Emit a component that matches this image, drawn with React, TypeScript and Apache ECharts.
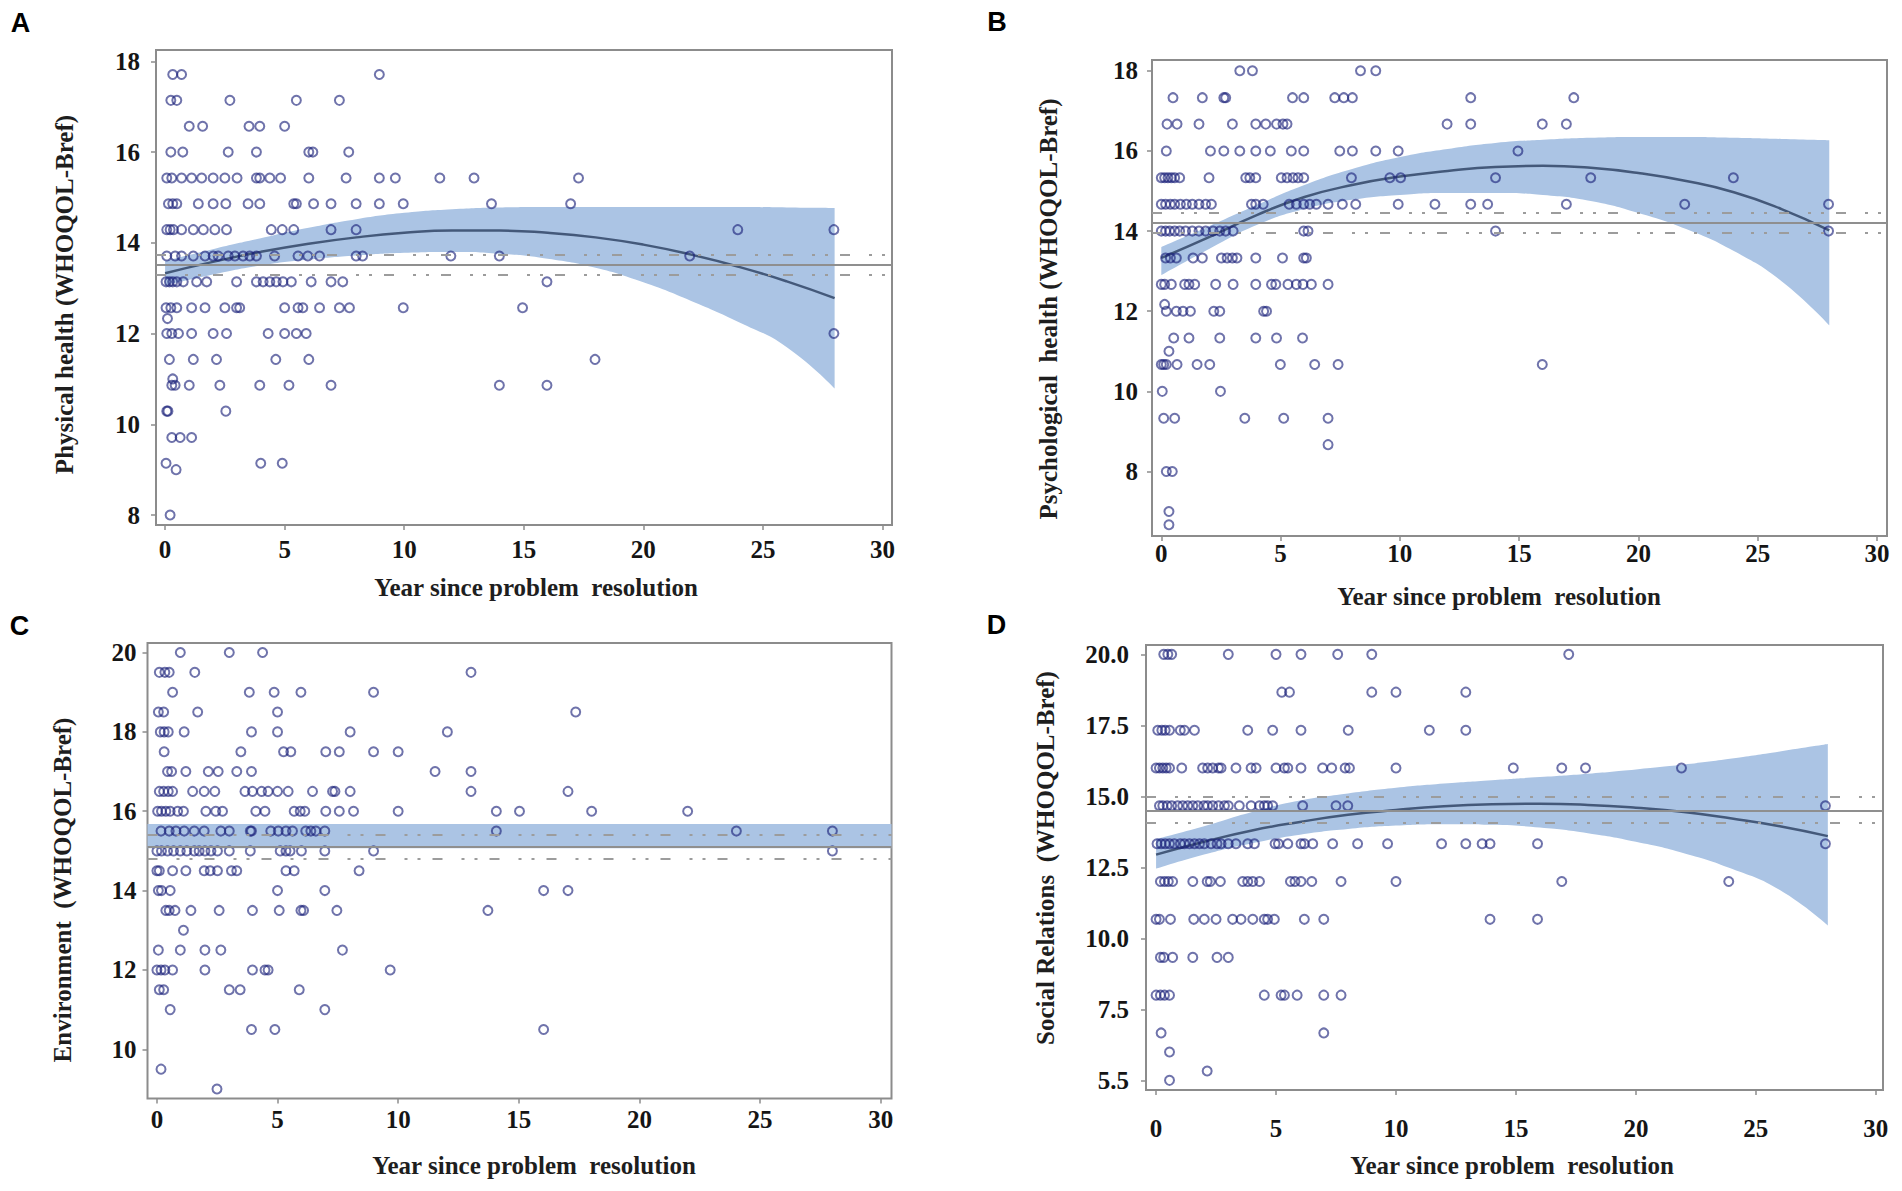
import React, { useEffect, useRef } from "react";
import * as echarts from "echarts";

// ---------- data ----------
const xTicks = [0, 5, 10, 15, 20, 25, 30];
const yTicksA = [8, 10, 12, 14, 16, 18];
const yTicksB = [8, 10, 12, 14, 16, 18];
const yTicksC = [10, 12, 14, 16, 18, 20];
const yTicksD = [5, 7.5, 10, 12.5, 15, 17.5, 20];
const yTickLabelsD = ["5.5", "7.5", "10.0", "12.5", "15.0", "17.5", "20.0"];

const fitYears = [0, 2, 4, 6, 8, 10, 12, 14, 16, 18, 20, 22, 24, 26, 28];

// Panel A: Physical health
const physicalFit = [13.33, 13.58, 13.8, 13.98, 14.12, 14.22, 14.27, 14.27, 14.22, 14.12, 13.96, 13.74, 13.47, 13.15, 12.78];
const physicalUpper = [13.6, 13.86, 14.1, 14.33, 14.52, 14.66, 14.74, 14.78, 14.79, 14.79, 14.79, 14.79, 14.79, 14.78, 14.77];
const physicalLower = [13.06, 13.3, 13.5, 13.63, 13.72, 13.78, 13.8, 13.76, 13.65, 13.45, 13.13, 12.72, 12.25, 11.7, 10.79];
const physicalMean = [13.52, 13.73, 13.3];
const physicalRows: [number, number[]][] = [
  [17.71, [0.32, 0.69, 8.96]],
  [17.14, [0.24, 0.49, 2.71, 5.49, 7.29]],
  [16.57, [1.01, 1.57, 3.51, 3.96, 5.0]],
  [16.0, [0.24, 0.74, 2.64, 3.82, 6.01, 6.18, 7.68]],
  [15.43, [0.07, 0.28, 0.69, 1.11, 1.53, 2.01, 2.5, 3.01, 3.82, 3.96, 4.38, 4.83, 6.01, 7.57, 8.96, 9.63, 11.49, 12.92, 17.29]],
  [14.86, [0.14, 0.32, 0.49, 1.39, 2.01, 2.54, 3.47, 3.96, 5.38, 5.49, 6.21, 6.94, 7.99, 8.96, 9.96, 13.65, 16.96]],
  [14.29, [0.07, 0.21, 0.35, 0.69, 1.18, 1.6, 2.08, 2.57, 4.44, 4.9, 5.38, 6.94, 7.99, 23.95, 27.97]],
  [13.71, [0.07, 0.42, 0.69, 1.18, 1.67, 2.01, 2.22, 2.64, 2.92, 3.26, 3.54, 3.82, 4.58, 5.56, 5.97, 6.46, 7.99, 8.26, 11.95, 13.98, 21.94]],
  [13.14, [0.04, 0.18, 0.32, 0.49, 0.76, 1.32, 1.74, 2.99, 3.82, 4.1, 4.38, 4.65, 4.93, 5.28, 6.11, 6.94, 7.43, 15.97]],
  [12.57, [0.04, 0.24, 0.49, 1.11, 1.67, 2.5, 2.99, 3.12, 5.0, 5.56, 5.76, 6.46, 7.29, 7.71, 9.96, 14.95]],
  [12.33, [0.1]],
  [12.0, [0.07, 0.28, 0.56, 1.11, 2.01, 2.57, 4.31, 5.0, 5.49, 5.9, 27.97]],
  [11.43, [0.18, 1.18, 2.15, 4.63, 6.01, 17.98]],
  [11.0, [0.32]],
  [10.86, [0.28, 0.42, 1.01, 2.29, 3.96, 5.18, 6.94, 13.98, 15.97]],
  [10.29, [0.07, 0.12, 2.54]],
  [9.71, [0.28, 0.63, 1.11]],
  [9.14, [0.04, 4.0, 4.9]],
  [9.0, [0.46]],
  [8.0, [0.21]],
];

// Panel B: Psychological health
const psychFit = [13.33, 13.85, 14.4, 14.85, 15.15, 15.36, 15.5, 15.6, 15.63, 15.58, 15.45, 15.25, 14.97, 14.55, 14.02];
const psychUpper = [13.6, 14.12, 14.65, 15.15, 15.55, 15.85, 16.05, 16.2, 16.28, 16.33, 16.35, 16.35, 16.33, 16.3, 16.27];
const psychLower = [12.9, 13.55, 14.15, 14.55, 14.78, 14.9, 14.95, 14.95, 14.9, 14.75, 14.45, 14.05, 13.5, 12.75, 11.65];
const psychMean = [14.2, 14.45, 13.96];
const psychRows: [number, number[]][] = [
  [18.0, [3.29, 3.82, 8.35, 8.99]],
  [17.33, [0.49, 1.72, 2.62, 2.7, 5.5, 5.97, 7.27, 7.65, 8.01, 12.97, 17.29]],
  [16.67, [0.24, 0.66, 1.58, 2.98, 3.96, 4.38, 4.83, 5.1, 5.27, 11.98, 12.97, 15.97, 16.98]],
  [16.0, [0.21, 2.06, 2.62, 3.29, 3.96, 4.57, 5.45, 5.97, 7.48, 8.01, 8.99, 9.93, 14.95]],
  [15.33, [0.0, 0.14, 0.28, 0.42, 0.56, 0.77, 2.0, 3.54, 3.71, 3.96, 5.03, 5.27, 5.52, 5.73, 5.97, 7.97, 9.58, 10.03, 14.01, 18.0, 23.98]],
  [14.67, [0.0, 0.18, 0.38, 0.56, 0.8, 1.05, 1.3, 1.58, 1.86, 2.1, 3.78, 3.96, 4.27, 5.36, 5.66, 5.97, 6.22, 6.5, 6.99, 7.59, 8.15, 9.93, 11.47, 12.97, 13.68, 16.98, 21.94, 27.97]],
  [14.0, [0.0, 0.18, 0.35, 0.56, 0.77, 1.02, 1.3, 1.58, 1.86, 2.17, 2.45, 2.7, 3.01, 5.97, 6.15, 14.01, 27.97]],
  [13.33, [0.18, 0.38, 0.63, 1.33, 1.72, 2.52, 2.76, 2.98, 3.17, 3.96, 5.08, 5.97, 6.08]],
  [12.67, [0.0, 0.14, 0.42, 0.98, 1.16, 1.4, 2.28, 3.01, 3.96, 4.62, 4.8, 5.31, 5.66, 5.94, 6.29, 6.99]],
  [12.17, [0.14]],
  [12.0, [0.21, 0.63, 0.91, 1.22, 2.2, 2.45, 4.29, 4.41]],
  [11.33, [0.52, 1.16, 2.45, 3.96, 4.83, 5.92]],
  [11.0, [0.32]],
  [10.67, [0.0, 0.1, 0.21, 0.66, 1.5, 2.03, 4.99, 6.43, 7.41, 15.97]],
  [10.0, [0.04, 2.48]],
  [9.33, [0.1, 0.56, 3.5, 5.13, 6.99]],
  [8.67, [6.99]],
  [8.0, [0.21, 0.46]],
  [7.0, [0.32]],
  [6.67, [0.32]],
];

// Panel C: Environment
const envBand = [15.07, 15.68];
const envMean = [15.1, 15.4, 14.8];
const envRows: [number, number[]][] = [
  [20.0, [0.97, 3.0, 4.38]],
  [19.5, [0.1, 0.33, 0.51, 1.57, 13.02]],
  [19.0, [0.65, 3.83, 4.86, 5.97, 8.98]],
  [18.5, [0.06, 0.28, 1.69, 5.0, 17.36]],
  [18.0, [0.14, 0.3, 0.47, 1.13, 3.92, 5.0, 8.01, 12.04]],
  [17.5, [0.3, 3.48, 5.25, 5.55, 7.0, 7.56, 8.98, 10.0]],
  [17.0, [0.44, 0.61, 1.2, 2.13, 2.54, 3.31, 3.92, 11.53, 13.02]],
  [16.5, [0.1, 0.28, 0.47, 0.65, 1.48, 1.96, 2.4, 3.65, 3.96, 4.34, 4.61, 5.0, 5.44, 6.45, 7.28, 7.38, 8.01, 13.02, 17.04]],
  [16.0, [0.03, 0.19, 0.37, 0.55, 0.86, 1.1, 2.03, 2.44, 2.72, 4.1, 4.48, 5.69, 5.94, 6.13, 7.0, 7.56, 8.15, 10.0, 14.07, 15.03, 18.02, 22.0]],
  [15.5, [0.17, 0.51, 0.79, 1.13, 1.55, 1.96, 2.65, 3.0, 3.87, 3.92, 4.72, 5.03, 5.35, 5.62, 6.17, 6.38, 6.59, 6.96, 14.07, 24.02, 28.0]],
  [15.0, [0.0, 0.19, 0.44, 0.69, 0.97, 1.24, 1.55, 1.75, 1.99, 2.24, 2.51, 3.0, 3.87, 5.11, 5.35, 5.52, 5.99, 6.96, 8.98, 28.0]],
  [14.5, [0.0, 0.1, 0.65, 1.2, 1.96, 2.21, 2.51, 3.09, 3.31, 5.35, 5.69, 8.38]],
  [14.0, [0.06, 0.19, 0.55, 5.0, 6.96, 16.03, 17.04]],
  [13.5, [0.37, 0.51, 0.75, 1.41, 2.58, 3.96, 5.07, 5.97, 6.08, 7.46, 13.72]],
  [13.0, [1.1]],
  [12.5, [0.06, 0.97, 1.99, 2.65, 7.69]],
  [12.0, [0.0, 0.17, 0.33, 0.65, 1.99, 3.96, 4.48, 4.61, 9.67]],
  [11.5, [0.1, 0.28, 3.0, 3.45, 5.9]],
  [11.0, [0.55, 6.96]],
  [10.5, [3.92, 4.89, 16.03]],
  [9.5, [0.17]],
  [9.0, [2.49]],
];

// Panel D: Social relations
const socialFit = [12.95, 13.4, 13.8, 14.1, 14.35, 14.52, 14.65, 14.72, 14.74, 14.7, 14.6, 14.45, 14.22, 13.95, 13.6];
const socialUpper = [13.5, 13.95, 14.45, 14.85, 15.1, 15.3, 15.45, 15.57, 15.68, 15.8, 15.95, 16.12, 16.33, 16.58, 16.84];
const socialLower = [12.45, 12.95, 13.35, 13.65, 13.85, 13.97, 14.02, 14.0, 13.9, 13.7, 13.4, 13.0, 12.45, 11.7, 10.45];
const socialMean = [14.5, 14.98, 14.06];
const socialRows: [number, number[]][] = [
  [20.0, [0.32, 0.49, 0.65, 3.01, 5.0, 6.04, 7.57, 8.99, 17.2]],
  [18.67, [5.24, 5.56, 8.99, 10.0, 12.91]],
  [17.33, [0.07, 0.24, 0.38, 0.56, 1.01, 1.18, 1.6, 3.82, 4.86, 6.04, 8.01, 11.39, 12.91]],
  [16.0, [0.0, 0.14, 0.28, 0.42, 0.56, 1.07, 1.94, 2.15, 2.36, 2.6, 2.71, 3.33, 3.96, 4.17, 5.0, 5.35, 5.49, 6.04, 6.94, 7.32, 7.88, 8.06, 10.0, 14.89, 16.91, 17.9, 21.9]],
  [14.67, [0.14, 0.28, 0.46, 0.65, 0.9, 1.11, 1.32, 1.53, 1.74, 1.99, 2.15, 2.36, 2.6, 2.85, 3.01, 3.47, 3.96, 4.31, 4.51, 4.65, 4.86, 6.11, 7.5, 7.99, 27.9]],
  [13.33, [0.04, 0.21, 0.38, 0.56, 0.76, 1.01, 1.18, 1.39, 1.6, 1.81, 2.01, 2.29, 2.54, 2.71, 3.01, 3.33, 3.82, 4.1, 4.96, 5.1, 5.49, 6.04, 6.18, 6.53, 7.36, 8.4, 9.65, 11.9, 12.91, 13.59, 13.92, 15.9, 27.9]],
  [12.0, [0.18, 0.35, 0.51, 0.69, 1.53, 2.13, 2.26, 2.68, 3.61, 3.82, 4.03, 4.31, 5.6, 5.79, 6.04, 6.49, 7.71, 10.0, 16.91, 23.87]],
  [10.67, [0.0, 0.14, 0.6, 1.57, 2.01, 2.5, 3.19, 3.54, 4.03, 4.51, 4.65, 4.93, 6.18, 6.99, 13.92, 15.9]],
  [9.33, [0.18, 0.32, 0.69, 1.53, 2.54, 3.01]],
  [8.0, [0.0, 0.18, 0.35, 0.56, 4.51, 5.21, 5.35, 5.88, 6.99, 7.71]],
  [6.67, [0.21, 6.99]],
  [6.0, [0.56]],
  [5.33, [2.13]],
  [5.0, [0.56]],
];

// ---------- styling / layout ----------
const SERIF = "'Liberation Serif', 'Times New Roman', serif";
const SANS = "'Liberation Sans', Arial, sans-serif";
const BOX = "#8c8c8c";
const BAND = "#abc4e4";
const CURVE = "#44597a";
const POINT = "rgba(24, 30, 120, 0.78)";
const DASHDOT = [10, 19, 3, 10, 3, 12];

// value first, year second: stacking then works on the value (y) dimension
const yxPairs = (xs: number[], ys: number[]) => xs.map((x, i) => [ys[i], x]);
const rowsToPoints = (rows: [number, number[]][]) => {
  const out: number[][] = [];
  rows.forEach(([level, years]) => years.forEach((yr) => out.push([yr, level])));
  return out;
};

type Panel = {
  grid: { left: number; top: number; width: number; height: number };
  xRange: [number, number];
  yRange: [number, number];
  yTicks: number[];
  yLabel?: (v: number) => string;
  xMargin: number;
  yMargin: number;
  rows: [number, number[]][];
  fit?: number[];
  upper?: number[];
  lower?: number[];
  flatBand?: number[];
  mean: number[];
};

const panels: Panel[] = [
  {
    grid: { left: 156, top: 50, width: 736, height: 475 },
    xRange: [-0.38, 30.4], yRange: [7.78, 18.25], yTicks: yTicksA,
    xMargin: 12, yMargin: 16, rows: physicalRows,
    fit: physicalFit, upper: physicalUpper, lower: physicalLower, mean: physicalMean,
  },
  {
    grid: { left: 1152, top: 60, width: 735, height: 476 },
    xRange: [-0.39, 30.42], yRange: [6.39, 18.27], yTicks: yTicksB,
    xMargin: 5, yMargin: 14, rows: psychRows,
    fit: psychFit, upper: psychUpper, lower: psychLower, mean: psychMean,
  },
  {
    grid: { left: 147.5, top: 643, width: 744, height: 455.5 },
    xRange: [-0.39, 30.45], yRange: [8.76, 20.24], yTicks: yTicksC,
    xMargin: 8, yMargin: 11, rows: envRows,
    flatBand: envBand, mean: envMean,
  },
  {
    grid: { left: 1146, top: 645, width: 737, height: 445 },
    xRange: [-0.42, 30.3], yRange: [4.66, 20.33], yTicks: yTicksD,
    yLabel: (v: number) => {
      const i = yTicksD.indexOf(v);
      return i >= 0 ? yTickLabelsD[i] : String(v);
    },
    xMargin: 26, yMargin: 17, rows: socialRows,
    fit: socialFit, upper: socialUpper, lower: socialLower, mean: socialMean,
  },
];

const letters = [
  { t: "A", x: 20.5, y: 23 },
  { t: "B", x: 997, y: 22 },
  { t: "C", x: 19.5, y: 625.5 },
  { t: "D", x: 996.5, y: 625 },
];
const yNames = [
  { t: "Physical health (WHOQOL-Bref)", x: 64, y: 294.5 },
  { t: "Psychological  health (WHOQOL-Bref)", x: 1048, y: 309 },
  { t: "Environment  (WHOQOL-Bref)", x: 62, y: 890 },
  { t: "Social Relations  (WHOQOL-Bref)", x: 1045, y: 858 },
];
const xNames = [
  { t: "Year since problem  resolution", x: 536, y: 587.5 },
  { t: "Year since problem  resolution", x: 1499, y: 596 },
  { t: "Year since problem  resolution", x: 534, y: 1165 },
  { t: "Year since problem  resolution", x: 1512, y: 1165 },
];

function buildOption() {
  const grid: any[] = [];
  const xAxis: any[] = [];
  const yAxis: any[] = [];
  const series: any[] = [];
  const tickLine = { show: true, length: 5, lineStyle: { color: BOX, width: 1.5 } };
  const labelBase = { fontFamily: SERIF, fontWeight: "bold", fontSize: 25, color: "#151515" };

  panels.forEach((p, i) => {
    grid.push({
      ...p.grid, show: true, borderColor: BOX, borderWidth: 2,
      backgroundColor: "transparent", containLabel: false, outerBoundsMode: "none",
    });
    xAxis.push({
      type: "value", gridIndex: i, min: p.xRange[0], max: p.xRange[1],
      axisLine: { show: false, onZero: false },
      axisTick: { ...tickLine, customValues: xTicks },
      axisLabel: { ...labelBase, margin: p.xMargin, customValues: xTicks },
      splitLine: { show: false },
    });
    yAxis.push({
      type: "value", gridIndex: i, min: p.yRange[0], max: p.yRange[1],
      axisLine: { show: false, onZero: false },
      axisTick: { ...tickLine, customValues: p.yTicks },
      axisLabel: {
        ...labelBase, margin: p.yMargin, customValues: p.yTicks,
        ...(p.yLabel ? { formatter: p.yLabel } : {}),
      },
      splitLine: { show: false },
    });

    if (p.fit && p.upper && p.lower) {
      const diff = p.upper.map((u, k) => u - p.lower![k]);
      series.push({
        type: "line", xAxisIndex: i, yAxisIndex: i, stack: "band" + i,
        data: yxPairs(fitYears, p.lower), encode: { x: 1, y: 0 },
        smooth: true, symbol: "none", silent: true,
        lineStyle: { opacity: 0 }, z: 1,
      });
      series.push({
        type: "line", xAxisIndex: i, yAxisIndex: i, stack: "band" + i,
        data: yxPairs(fitYears, diff), encode: { x: 1, y: 0 },
        smooth: true, symbol: "none", silent: true,
        lineStyle: { opacity: 0 }, areaStyle: { color: BAND, opacity: 1 }, z: 1,
      });
      series.push({
        type: "line", xAxisIndex: i, yAxisIndex: i,
        data: yxPairs(fitYears, p.fit), encode: { x: 1, y: 0 },
        smooth: true, symbol: "none", silent: true,
        lineStyle: { color: CURVE, width: 2.5 }, z: 3,
      });
    }

    const scatter: any = {
      type: "scatter", xAxisIndex: i, yAxisIndex: i,
      data: rowsToPoints(p.rows), symbol: "circle", symbolSize: 9,
      itemStyle: { color: "transparent", borderColor: POINT, borderWidth: 2 },
      z: 4,
      markLine: {
        silent: true, symbol: ["none", "none"], label: { show: false },
        data: [
          { yAxis: p.mean[0], lineStyle: { color: "#8f8f8f", width: 2, type: "solid" } },
          { yAxis: p.mean[1], lineStyle: { color: "#9c9c9c", width: 2, type: DASHDOT } },
          { yAxis: p.mean[2], lineStyle: { color: "#9c9c9c", width: 2, type: DASHDOT } },
        ],
      },
    };
    if (p.flatBand) {
      scatter.markArea = {
        silent: true,
        itemStyle: { color: BAND, opacity: 1 },
        data: [[{ yAxis: p.flatBand[0] }, { yAxis: p.flatBand[1] }]],
      };
    }
    series.push(scatter);
  });

  const graphic: any[] = [];
  letters.forEach((l) =>
    graphic.push({
      type: "text", x: l.x, y: l.y, silent: true,
      style: {
        text: l.t, fontFamily: SANS, fontWeight: "bold", fontSize: 27, fill: "#000",
        textAlign: "center", textVerticalAlign: "middle", align: "center", verticalAlign: "middle",
      },
    })
  );
  yNames.forEach((n) =>
    graphic.push({
      type: "text", x: n.x, y: n.y, rotation: Math.PI / 2, silent: true,
      style: {
        text: n.t, fontFamily: SERIF, fontWeight: "bold", fontSize: 25, fill: "#1e1e1e",
        textAlign: "center", textVerticalAlign: "middle", align: "center", verticalAlign: "middle",
      },
    })
  );
  xNames.forEach((n) =>
    graphic.push({
      type: "text", x: n.x, y: n.y, silent: true,
      style: {
        text: n.t, fontFamily: SERIF, fontWeight: "bold", fontSize: 25, fill: "#1e1e1e",
        textAlign: "center", textVerticalAlign: "middle", align: "center", verticalAlign: "middle",
      },
    })
  );

  return {
    animation: false,
    backgroundColor: "#ffffff",
    grid, xAxis, yAxis, series, graphic,
  };
}

export default function App() {
  const ref = useRef<HTMLDivElement>(null);
  useEffect(() => {
    if (!ref.current) return;
    const chart = echarts.init(ref.current, undefined, { renderer: "svg" });
    chart.setOption(buildOption() as any);
    return () => chart.dispose();
  }, []);
  return (
    <div
      ref={ref}
      style={{ position: "absolute", left: 0, top: 0, width: 1902, height: 1191, background: "#fff" }}
    />
  );
}
